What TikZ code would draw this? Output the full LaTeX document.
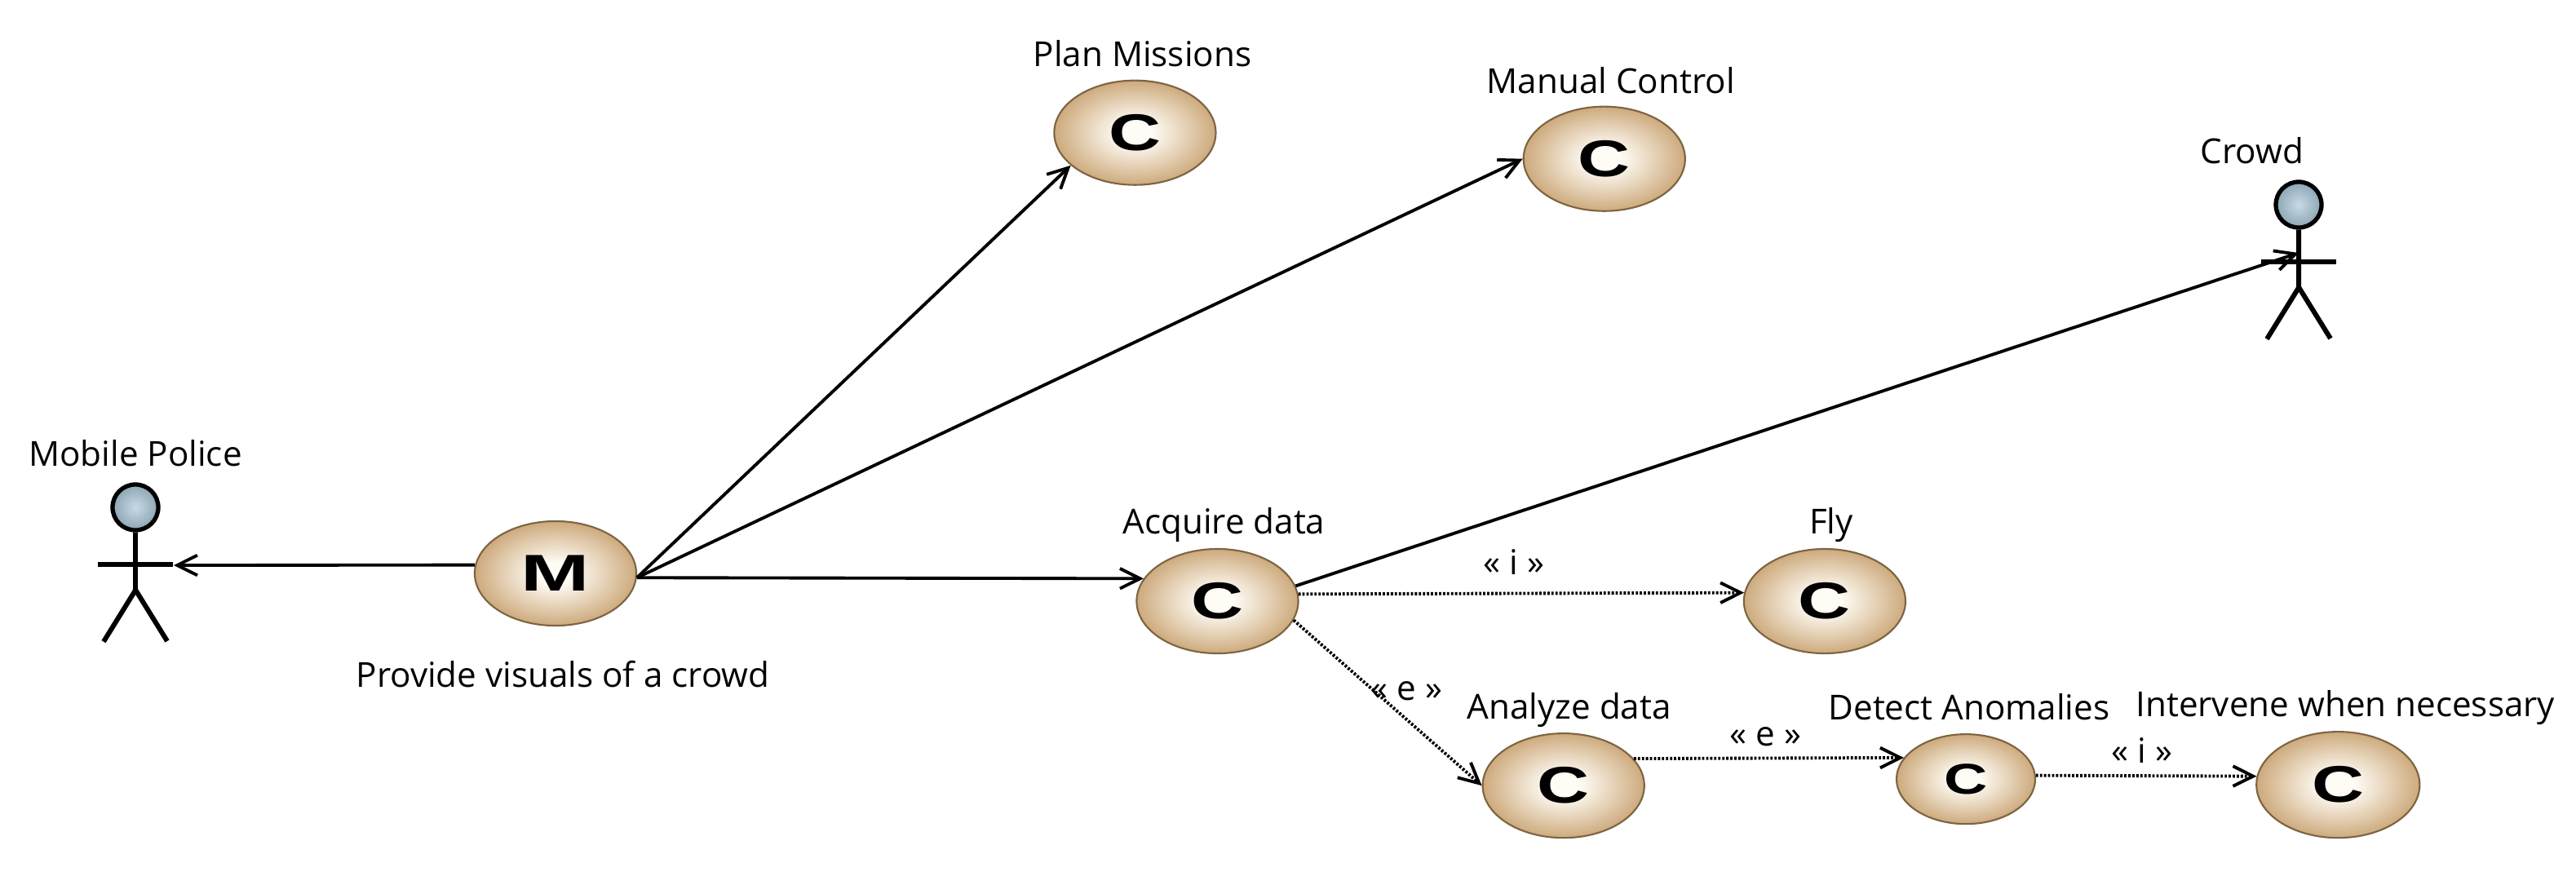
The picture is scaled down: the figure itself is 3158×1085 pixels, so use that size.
\documentclass[tikz,border=0pt]{standalone}
\usepackage{fontspec}
\setmainfont{Open Sans}
\newfontfamily\glyphfont[BoldFont={Liberation Sans Bold}]{Liberation Sans}
\usetikzlibrary{shapes.geometric,arrows.meta}
\definecolor{tan1}{RGB}{205,170,125}
\definecolor{tan2}{RGB}{228,208,180}
\definecolor{cream1}{RGB}{255,252,246}
\definecolor{edge1}{RGB}{125,100,65}
\definecolor{blue1}{RGB}{200,218,228}
\definecolor{blue2}{RGB}{140,165,180}
\pgfdeclareradialshading{ucshade}{\pgfpoint{0bp}{0bp}}{color(0bp)=(cream1); color(5bp)=(cream1); color(16bp)=(tan2); color(25bp)=(tan1); color(50bp)=(tan1)}
\tikzstyle{usecase} = [ellipse, draw=edge1, line width=0.6pt, shading=ucshade, inner sep=0pt, minimum width=1.98cm, minimum height=1.28cm]
\tikzstyle{caption} = [inner sep=0pt, font=\fontsize{12}{14}\selectfont]
\tikzstyle{head} = [circle, draw=black, line width=1.5pt, inner color=blue1, outer color=blue2, inner sep=0pt, minimum size=0.56cm]
\tikzstyle{limb} = [line width=1.7pt]
\tikzstyle{assoc} = [line width=1.1pt, -{Straight Barb[length=7pt,width=7pt]}]
\tikzstyle{depend} = [assoc, dash pattern=on 0.8pt off 0.6pt]
\newcommand{\ucglyph}[3]{\scalebox{#1}[1]{\fontsize{#2}{#2}\selectfont\glyphfont\bfseries #3}}

\begin{document}
\begin{tikzpicture}[x=0.01cm, y=-0.01cm, node distance=2cm, auto]
	\useasboundingbox (0,0) rectangle (3158,1085);
	% Use cases
	\node [usecase] at (681,703) (M01) {\ucglyph{1.6}{18}{M}};
	\node [usecase, right of=M01, node distance=8.11cm, yshift=-0.34cm] (C01) {\ucglyph{1.4}{18}{C}};
	\node [usecase, right of=C01, node distance=7.44cm] (C02) {\ucglyph{1.4}{18}{C}};
	\node [usecase, right of=C01, node distance=4.24cm, yshift=-2.26cm] (C03) {\ucglyph{1.4}{18}{C}};
	\node [usecase, right of=C03, node distance=4.93cm, yshift=0.08cm, minimum width=1.7cm, minimum height=1.1cm] (C04) {\ucglyph{1.4}{15}{C}};
	\node [usecase, right of=C04, node distance=4.56cm, yshift=-0.07cm, minimum width=2cm, minimum height=1.3cm] (C05) {\ucglyph{1.4}{18}{C}};
	\node [usecase, above of=C01, node distance=5.74cm, xshift=-1.01cm] (C06) {\ucglyph{1.4}{18}{C}};
	\node [usecase, right of=C06, node distance=5.75cm, yshift=-0.32cm] (C07) {\ucglyph{1.4}{18}{C}};

	% Actors
	\node [head] at (166,622) (A01) {};
	\node [head] at (2818,251) (A02) {};
	\coordinate [right of=A01, node distance=0.47cm, yshift=-0.71cm] (A01r);
	\coordinate [below of=A02, node distance=0.59cm] (A02t);
	\foreach \a in {A01,A02} {
		\draw [limb] (\a.south) -- ++(0,71) -- ++(-39,63);
		\draw [limb] (\a) ++(0,101) -- ++(39,63);
		\draw [limb] (\a) ++(-46,70) -- ++(92,0);
	}

	% Captions
	\node [caption, above of=A01, node distance=0.66cm] (T01) {Mobile Police};
	\node [caption, below of=M01, node distance=1.23cm, xshift=0.09cm] (T02) {Provide visuals of a crowd};
	\node [caption, above of=C01, node distance=0.93cm, xshift=0.08cm] (T03) {Acquire data};
	\node [caption, above of=C02, node distance=0.93cm, xshift=0.08cm] (T04) {Fly};
	\node [caption, above of=C03, node distance=0.93cm, xshift=0.07cm] (T05) {Analyze data};
	\node [caption, above of=C04, node distance=0.88cm, xshift=0.04cm] (T06) {Detect Anomalies};
	\node [caption, above of=C05, node distance=0.95cm, xshift=0.09cm] (T07) {Intervene when necessary};
	\node [caption, above of=C06, node distance=0.97cm, xshift=0.09cm] (T08) {Plan Missions};
	\node [caption, above of=C07, node distance=0.96cm, xshift=0.08cm] (T09) {Manual Control};
	\node [caption, above of=A02, node distance=0.66cm, xshift=-0.57cm] (T10) {Crowd};

	\draw [assoc] (M01.174) to (A01r);
	\draw [assoc] (M01.-3) to (C06.207);
	\draw [assoc] (M01.-3) to (C07.west);
	\draw [assoc] (M01.-3) to (C01.163);
	\draw [assoc] (C01.11) to (A02t);
	\draw [depend] (C01.5) to node [caption, midway, swap, anchor=center, xshift=-0.09cm, yshift=0.38cm] (E01) {« i »} (C02.174);
	\draw [depend] (C01.-14) to node [caption, midway, swap, anchor=center, xshift=0.23cm, yshift=0.15cm] (E02) {« e »} (C03.west);
	\draw [depend] (C03.21) to node [caption, midway, swap, anchor=center, xshift=-0.04cm, yshift=0.26cm] (E03) {« e »} (C04.161);
	\draw [depend] (C04.3) to node [caption, midway, swap, anchor=center, xshift=-0.05cm, yshift=0.31cm] (E04) {« i »} (C05.174);
\end{tikzpicture}
\end{document}
